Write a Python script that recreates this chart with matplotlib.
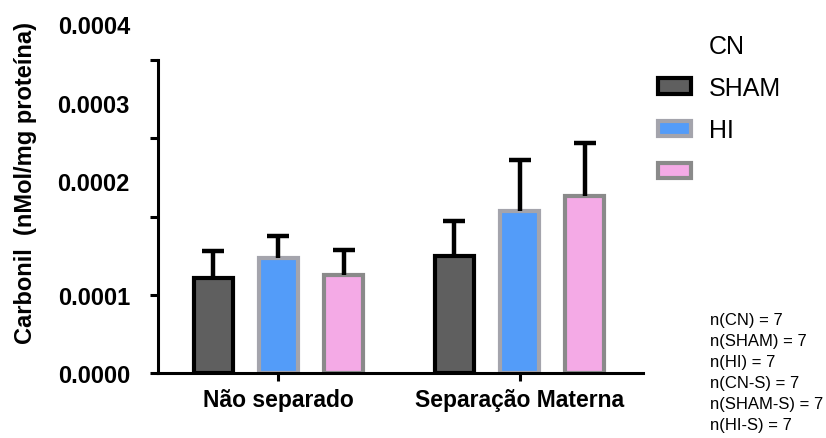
import numpy as np
import matplotlib.pyplot as plt
from matplotlib.patches import Patch

plt.rcParams['font.family'] = ['Liberation Sans', 'DejaVu Sans']

# Dados
grupos = ['Não separado', 'Separação Materna']
series = ['CN', 'SHAM', 'HI']
cn = [1.21e-4, 1.50e-4]
sham = [1.47e-4, 2.07e-4]
hi = [1.25e-4, 2.26e-4]
cn_err = [0.35e-4, 0.44e-4]
sham_err = [0.28e-4, 0.65e-4]
hi_err = [0.32e-4, 0.68e-4]
n_labels = ['n(CN) = 7', 'n(SHAM) = 7', 'n(HI) = 7',
            'n(CN-S) = 7', 'n(SHAM-S) = 7', 'n(HI-S) = 7']

fill = ['#5f5f5f', '#539cf9', '#f4aae6']
edge = ['#000000', '#a4a4ac', '#8a8a8a']

fig = plt.figure(figsize=(8.26, 4.39), dpi=100)
ax = fig.add_axes([0.191, 0.148, 0.587, 0.837])

x = np.arange(len(grupos))
offs = [-0.27, 0, 0.27]
width = 0.16
for vals, errs, off, fc, ec in zip([cn, sham, hi], [cn_err, sham_err, hi_err], offs, fill, edge):
    ax.bar(x + off, vals, width, color=fc, edgecolor=ec, linewidth=3, zorder=2)
    eb = ax.errorbar(x + off, vals, yerr=[np.zeros(len(errs)), errs], fmt='none',
                     ecolor='black', elinewidth=3.2, capsize=8, capthick=3.2, zorder=3)
    eb[1][0].set_visible(False)  # sem cap inferior

ax.set_xlim(-0.5, 1.51)
ax.set_ylim(0, 0.00047)
for s in ['top', 'right']:
    ax.spines[s].set_visible(False)
ax.spines['left'].set_bounds(0, 0.0004)
ax.spines['left'].set_linewidth(2.2)
ax.spines['bottom'].set_linewidth(2.2)

# marcas principais sem rótulo exceto 0 e 0.0001
ax.set_yticks([0, 0.0001, 0.0002, 0.0003, 0.0004])
ax.set_yticklabels(['0.0000', '0.0001', '', '', ''])
ax.set_yticks([0.000245, 0.000346, 0.000446], minor=True)
ax.set_yticklabels(['0.0002', '0.0003', '0.0004'], minor=True)
ax.tick_params(axis='y', which='major', length=6, width=2.2, pad=14,
               labelsize=17)
ax.tick_params(axis='y', which='minor', length=0, pad=20, labelsize=17)
for lab in ax.get_yticklabels(which='both'):
    lab.set_fontweight('bold')

ax.set_xticks(x)
ax.set_xticklabels(grupos, fontsize=16.5, fontweight='bold')
ax.tick_params(axis='x', length=6, width=2.2, pad=5)

ax.set_ylabel('Carbonil  (nMol/mg proteína)', fontsize=17, fontweight='bold')
ax.yaxis.set_label_coords(-0.25, 0.52)

# Legenda
handles = [Patch(facecolor='none', edgecolor='none')]
handles += [Patch(facecolor=fc, edgecolor=ec, linewidth=3) for fc, ec in zip(fill, edge)]
labels = ['CN', 'SHAM', 'HI', '']
fig.legend(handles, labels, loc='upper left', bbox_to_anchor=(0.785, 0.944),
           frameon=False, fontsize=18, handlelength=1.32, handleheight=0.55,
           handletextpad=0.7, labelspacing=0.73, borderaxespad=0)

fig.text(0.859, 0.288, '\n'.join(n_labels), fontsize=12, va='top', ha='left',
         linespacing=1.5)

fig.savefig('out.png', dpi=100)
